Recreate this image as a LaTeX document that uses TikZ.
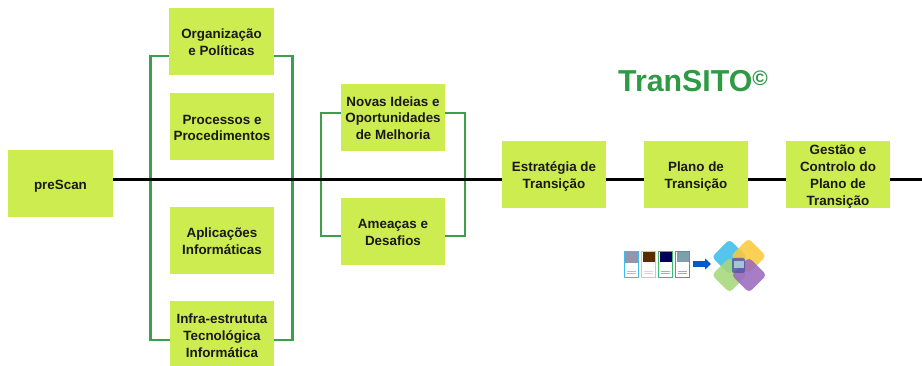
\documentclass[tikz,border=0pt]{standalone}
\usepackage{fontspec}
\setmainfont{Liberation Sans}
\usetikzlibrary{arrows.meta}
\definecolor{boxgreen}{HTML}{CCEC50}
\definecolor{linegreen}{HTML}{3AA04C}
\definecolor{titlegreen}{HTML}{2F9A45}
\definecolor{cblue}{HTML}{3DBDEA}
\definecolor{cyellow}{HTML}{FBC93C}
\definecolor{cgreen}{HTML}{3DBB6C}
\definecolor{cpurple}{HTML}{9A6BBE}
\definecolor{dgreen}{HTML}{A6D77A}
\newcommand{\topstrut}{\rule{0pt}{13.7pt}}
\newcommand{\botstrut}{\rule[-2.7pt]{0pt}{2.7pt}}
\tikzset{
  stagebox/.style={fill=boxgreen,draw=none,minimum width=104pt,minimum height=67pt,inner sep=0pt,align=center,
    font=\fontsize{13.4}{16.8}\selectfont\bfseries,text=black!90},
  bracket/.style={draw=linegreen,line width=2.5pt},
  mainline/.style={draw=black,line width=3pt},
  card/.style={draw=#1,line width=1pt,fill=white,minimum width=14pt,minimum height=26pt,inner sep=0pt},
  petal/.style={fill=#1,opacity=.88,rounded corners=4pt,rotate=45,minimum size=25pt,inner sep=0pt}
}
\begin{document}
\begin{tikzpicture}[x=1pt,y=-1pt]
\useasboundingbox (0,0) rectangle (922,366);
\coordinate (lineend) at (922,179.3);
\coordinate (lefta) at (150.5,179);
\coordinate (righta) at (292.7,179);
\coordinate (leftb) at (321,179);
\coordinate (rightb) at (465,179);
\coordinate (topa) at (222,56);
\coordinate (bota) at (222,340);
\coordinate (topb) at (393,113);
\coordinate (botb) at (393,236);
\node[stagebox,minimum width=105pt] (prescan) at (60.5,184) {\topstrut preScan\botstrut};
\draw[bracket] (topa) -- (lefta |- topa) -- (lefta |- bota) -- (bota);
\draw[bracket] (topa) -- (righta |- topa) -- (righta |- bota) -- (bota);
\draw[bracket] (topb) -- (leftb |- topb) -- (leftb |- botb) -- (botb);
\draw[bracket] (topb) -- (rightb |- topb) -- (rightb |- botb) -- (botb);
\draw[mainline] (prescan.east |- lineend) -- (lineend);
\node[stagebox,minimum width=105pt] (org) at (221.5,41.5) {\topstrut Organização\\e Políticas\botstrut};
\node[stagebox] (proc) at (222,127) {\topstrut Processos e\\Procedimentos\botstrut};
\node[stagebox] (apl) at (222,240.5) {\topstrut Aplicações\\Informáticas\botstrut};
\node[stagebox] (infra) at (222,335) {\topstrut Infra-estrututa\\Tecnológica\\Informática\botstrut};
\node[stagebox] (novas) at (393,117.5) {\topstrut Novas Ideias e\\Oportunidades\\de Melhoria\botstrut};
\node[stagebox] (ameacas) at (393,231.5) {\topstrut Ameaças e\\Desafios\botstrut};
\node[stagebox] (estr) at (554,174.5) {\topstrut Estratégia de\\Transição\botstrut};
\node[stagebox] (plano) at (696,174.5) {\topstrut Plano de\\Transição\botstrut};
\node[stagebox] (gestao) at (838,174.5) {\topstrut Gestão e\\Controlo do\\Plano de\\Transição\botstrut};
\node[inner sep=0pt,anchor=base west,text=titlegreen,font=\fontsize{30.3}{32}\selectfont\bfseries] (title) at (618,91.5) {TranSITO\raisebox{6pt}{\fontsize{21}{22}\selectfont\bfseries©}};
% icon: four cards
\node[card=cblue] (c1) at (631.5,264.5) {};
\node[card=cyellow] (c2) at (648.5,264.5) {};
\node[card=cgreen] (c3) at (665.5,264.5) {};
\node[card=cpurple] (c4) at (682.5,264.5) {};
\fill[black!35!blue!20!gray!70] ([shift={(1,1)}]c1.north west) rectangle ([shift={(-1,12)}]c1.north east);
\fill[black!65!orange] ([shift={(1.5,1.5)}]c2.north west) rectangle ([shift={(-1.5,11)}]c2.north east);
\fill[blue!35!black] ([shift={(1.5,1.5)}]c3.north west) rectangle ([shift={(-1.5,11)}]c3.north east);
\fill[gray!70!cyan] ([shift={(1.5,1.5)}]c4.north west) rectangle ([shift={(-1.5,11)}]c4.north east);
\foreach \c/\k in {c1/cblue,c2/cyellow,c3/cgreen,c4/cpurple}{
  \draw[\k!70,line width=.5pt] ([shift={(3,-7)}]\c.south west) -- ([shift={(-3,-7)}]\c.south east);
  \draw[\k!70,line width=.5pt] ([shift={(3,-4.5)}]\c.south west) -- ([shift={(-3,-4.5)}]\c.south east);
}
% icon: arrow
\coordinate (iconto) at (711,264);
\draw[line width=6pt,draw=blue!55!cyan!80!black,-{Triangle[length=6pt,width=11pt]}] (c4.east |- iconto) ++(3,0) -- (iconto);
% icon: petals
\node[petal=cblue] (p1) at (729.5,257) {};
\node[petal=cyellow] (p2) at (748.5,256) {};
\node[petal=dgreen] (p3) at (729.5,275) {};
\node[petal=cpurple] (p4) at (749,275) {};
\fill[blue!35!gray,opacity=.8,rounded corners=2pt] (732,258) rectangle (745,273);
\fill[cyan!40!gray!60] (733.5,261) rectangle (743.5,268);
\end{tikzpicture}
\end{document}
